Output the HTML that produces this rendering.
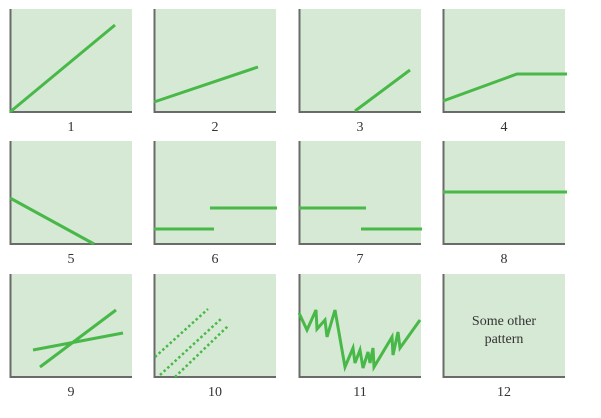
<!DOCTYPE html>
<html><head><style>html,body{margin:0;padding:0;background:#fff}svg{display:block}</style></head>
<body>
<svg width="601" height="418" viewBox="0 0 601 418" xmlns="http://www.w3.org/2000/svg" font-family="Liberation Serif, serif">
<defs>
<g id="p">
<rect x="0" y="0" width="122" height="103" fill="#d6e9d4" stroke="none"/>
<path d="M0.5,0 V103 H122" fill="none" stroke="#6a6a6a" stroke-width="2"/>
</g>
</defs>
<g>
<use href="#p" x="10" y="9"/><use href="#p" x="154" y="9"/><use href="#p" x="299" y="9"/><use href="#p" x="443" y="9"/>
<use href="#p" x="10" y="141"/><use href="#p" x="154" y="141"/><use href="#p" x="299" y="141"/><use href="#p" x="443" y="141"/>
<use href="#p" x="10" y="274"/><use href="#p" x="154" y="274"/><use href="#p" x="299" y="274"/><use href="#p" x="443" y="274"/>
</g>
<g stroke="#48b848" stroke-width="3" fill="none" stroke-linecap="butt" stroke-linejoin="miter">
<g transform="translate(10,9)"><path d="M0,103 L105,16"/></g>
<g transform="translate(154,9)"><path d="M0,93 L104,58"/></g>
<g transform="translate(299,9)"><path d="M56,102 L111,61"/></g>
<g transform="translate(443,9)"><path d="M0,92 L74,65 L124,65"/></g>

<g transform="translate(10,141)"><path d="M0,57 L84,103"/></g>
<g transform="translate(154,141)"><path d="M0,88 L60,88 M56,67 L123,67"/></g>
<g transform="translate(299,141)"><path d="M0,67 L67,67 M62,88 L123,88"/></g>
<g transform="translate(443,141)"><path d="M0,51 L124,51"/></g>

<g transform="translate(10,274)"><path d="M23,76 L113,59 M30,93 L106,36"/></g>
<g transform="translate(154,274)"><path stroke-dasharray="2.5,2.5" stroke-width="2.5" d="M1,83 L54,35 M6,101 L68,44 M21,103 L74,52"/></g>
<g transform="translate(299,274)"><path d="M0,39 L8,56 L17,36 L18,55 L26,46 L28,63 L36,36 L46,93 L54,74 L56,89 L61,76 L64,94 L69,78 L71,89 L74,74 L75,93 L93,63 L94,81 L99,58 L101,74 L121,46"/></g>
</g>
<g fill="#333" font-size="14" text-anchor="middle">
<text x="71" y="131">1</text><text x="215" y="131">2</text><text x="360" y="131">3</text><text x="504" y="131">4</text>
<text x="71" y="263">5</text><text x="215" y="263">6</text><text x="360" y="263">7</text><text x="504" y="263">8</text>
<text x="71" y="396">9</text><text x="215" y="396">10</text><text x="360" y="396">11</text><text x="504" y="396">12</text>
<text x="504" y="325">Some other</text><text x="504" y="343">pattern</text>
</g>
</svg>
</body></html>
